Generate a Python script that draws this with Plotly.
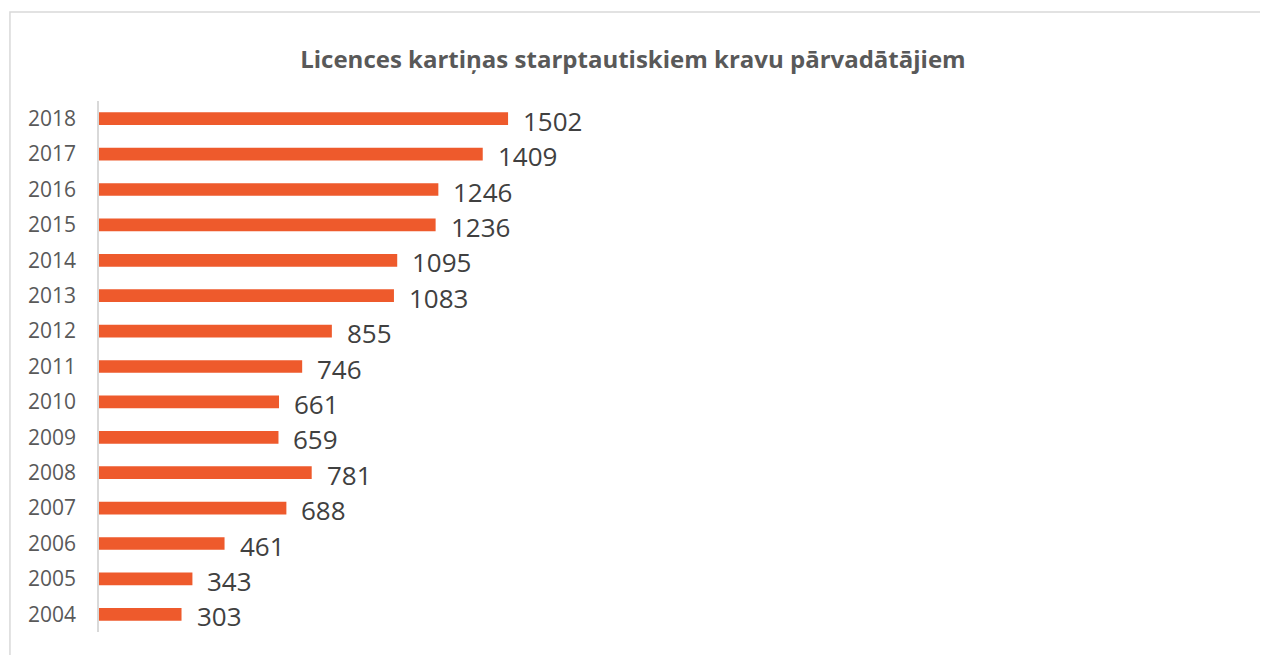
import plotly.graph_objects as go

# Dati
gadi = ['2004', '2005', '2006', '2007', '2008', '2009', '2010', '2011',
        '2012', '2013', '2014', '2015', '2016', '2017', '2018']
licences = [303, 343, 461, 688, 781, 659, 661, 746,
            855, 1083, 1095, 1236, 1246, 1409, 1502]

krasa = '#EE5A2C'

fig = go.Figure()

fig.add_trace(go.Bar(
    x=licences,
    y=gadi,
    orientation='h',
    marker=dict(color=krasa, line=dict(width=0)),
    width=0.36,
    hovertemplate="%{y}: %{x}<extra></extra>",
))

# vērtību etiķetes pa labi no stabiņiem (y = kategorijas indekss)
for i, v in enumerate(licences):
    fig.add_annotation(
        x=v, y=i,
        text=str(v),
        showarrow=False,
        xanchor='left',
        xshift=13,
        yshift=-2,
        font=dict(size=26, color='#404040', family='Open Sans'),
    )

# rāmis ap diagrammu
fig.add_shape(
    type='rect', xref='paper', yref='paper',
    x0=-0.0803, x1=1.2, y0=-0.06, y1=1.1676,
    line=dict(color='#D9D9D9', width=1.5),
    fillcolor='rgba(0,0,0,0)',
)

# lapai ir 8px noklusētā atkāpe, tāpēc attēls ir mazliet mazāks
fig.update_layout(
    width=1260,
    height=647,
    margin=dict(l=91, r=60, t=93, b=23),
    title=dict(
        text='<b>Licences kartiņas starptautiskiem kravu pārvadātājiem</b>',
        x=0.496, xanchor='center',
        y=1 - 52 / 647, yanchor='middle',
        font=dict(size=24, color='#595959', family='Open Sans'),
    ),
    plot_bgcolor='white',
    paper_bgcolor='white',
    showlegend=False,
    xaxis=dict(
        range=[0, 4072],
        visible=False,
        showgrid=False,
        zeroline=False,
    ),
    yaxis=dict(
        type='category',
        categoryorder='array',
        categoryarray=gadi,
        range=[-0.5, len(gadi) - 0.5],
        showline=True,
        linecolor='#D9D9D9',
        linewidth=1.5,
        showgrid=False,
        ticks='',
        ticklabelstandoff=17,
        tickfont=dict(size=21, color='#595959', family='Open Sans'),
    ),
)

fig.write_html("out.html")
